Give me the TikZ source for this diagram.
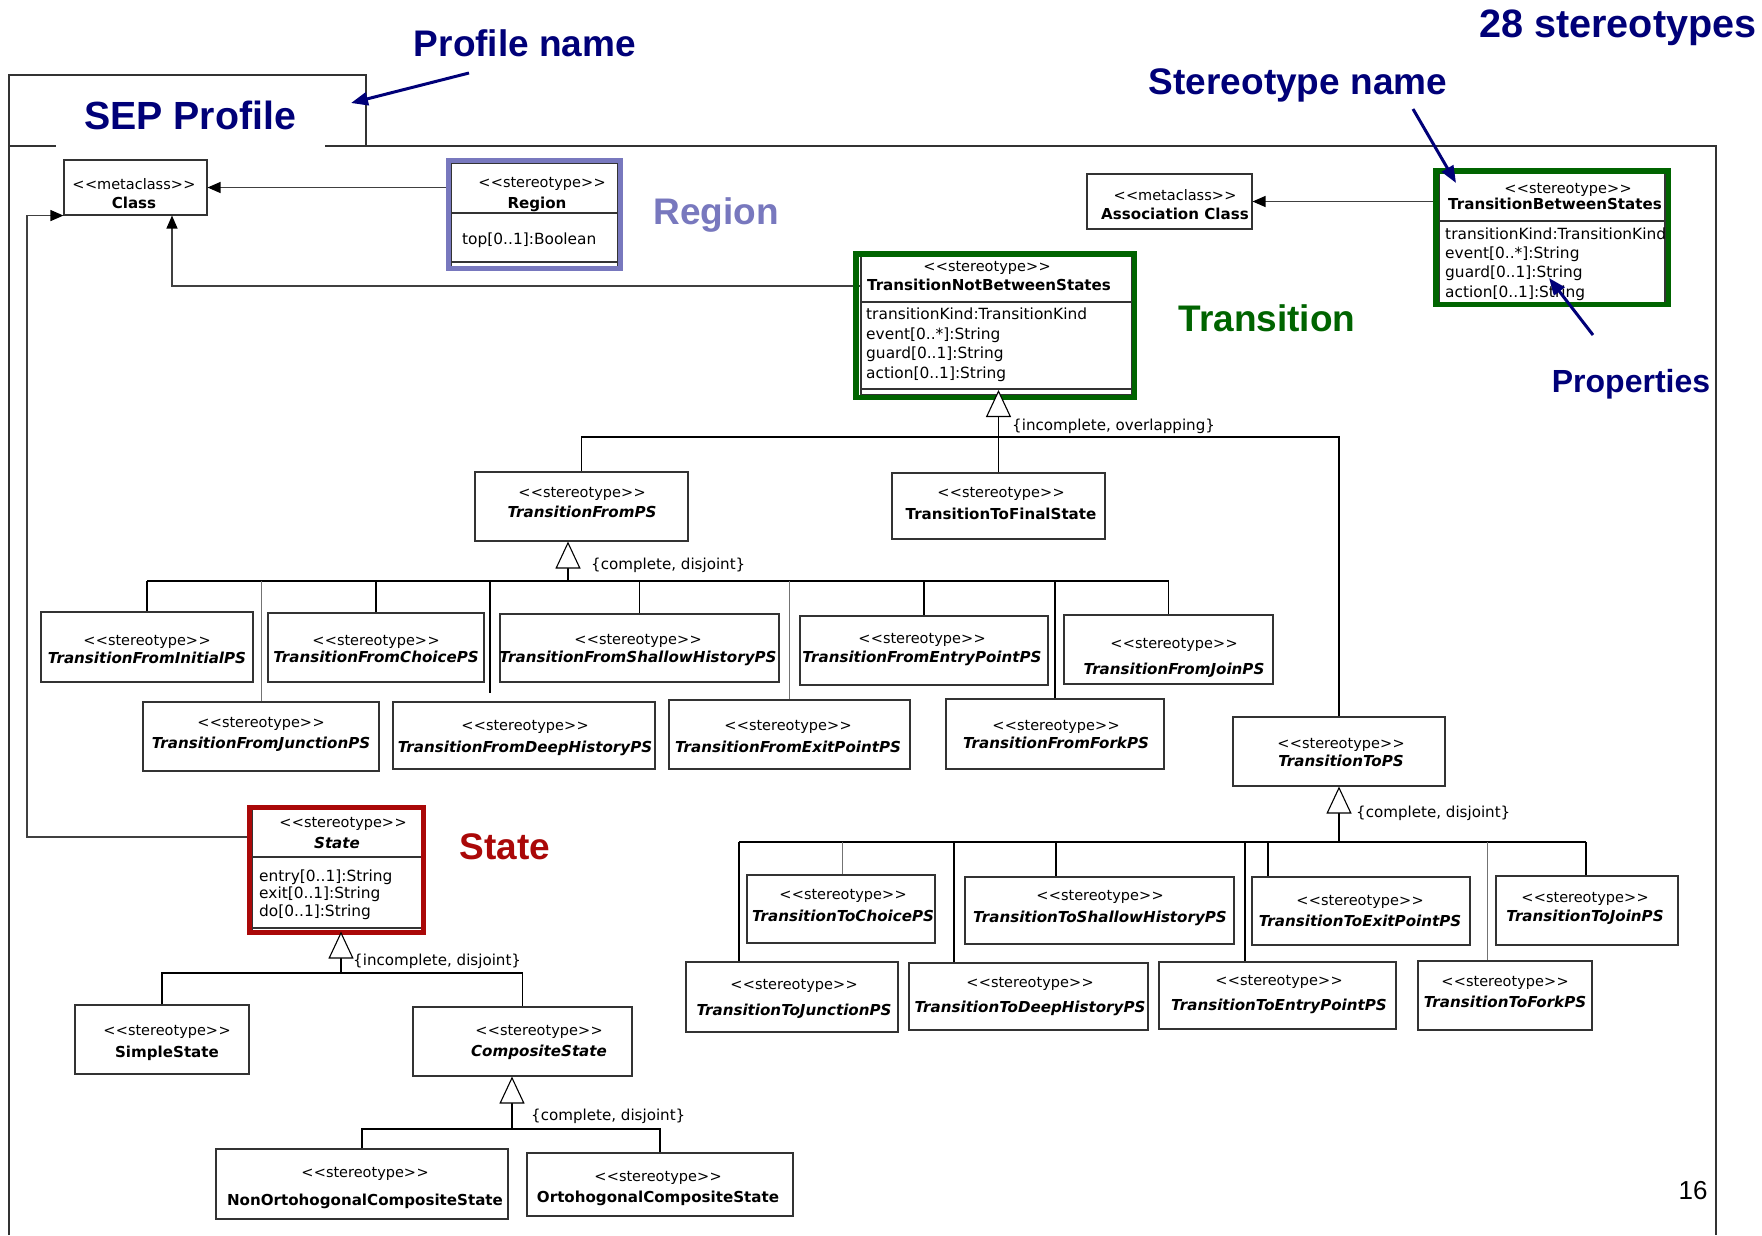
\documentclass[tikz,border=0pt]{standalone}
\usepackage{fontspec}
\setmainfont{DejaVu Sans}
\newfontfamily\annfont{Liberation Sans}
\usetikzlibrary{arrows.meta}

\definecolor{navyblue}{RGB}{0,0,120}
\definecolor{regioncol}{RGB}{120,120,190}
\definecolor{transcol}{RGB}{0,100,0}
\definecolor{statecol}{RGB}{170,8,8}
\definecolor{framecol}{RGB}{50,50,50}

% guillemet-free stereotype markers (kerns stop the << >> text mapping)
\newcommand\stereo{<\kern0.4pt<stereotype>\kern0.4pt>}
\newcommand\metac{<\kern0.4pt<metaclass>\kern0.4pt>}
\newcommand\bi[1]{{\fontsize{15.1}{19}\selectfont\bfseries\itshape #1}}
\newcommand\bo[1]{{\fontsize{15.1}{19}\selectfont\bfseries #1}}

\tikzset{
  sbox/.style={draw=black!80, line width=1.1pt, fill=white, inner sep=0pt},
  btext/.style={inner sep=0pt, align=center},
  stxt/.style={inner sep=0pt, anchor=base},
  attr/.style={inner sep=0pt, anchor=base west, font=\fontsize{15.4}{19}\selectfont},
  glabel/.style={inner sep=0pt, anchor=base west, font=\fontsize{15.1}{19}\selectfont},
  divider/.style={draw=black!80, line width=1.1pt},
  conn/.style={draw=black, line width=1.1pt},
  faint/.style={draw=black!55, line width=0.9pt},
  assoc/.style={draw=black!75, line width=1.2pt, -{Triangle[length=13pt, width=11pt, color=black]}},
  gentri/.style={draw=black, line width=1.1pt, -{Triangle[length=27pt, width=25pt, fill=white]}},
  hint/.style={draw=navyblue, line width=3pt, -{Triangle[length=17pt, width=13pt]}},
  ann/.style={inner sep=0pt, text=navyblue, font=\annfont\bfseries\fontsize{#1}{#1}\selectfont},
  pkgframe/.style={draw=framecol, line width=1.2pt},
}

% stereotype box: name, cx, cy, width, height, text x, text y, extra line gap, class name
\newcommand\ubox[9]{%
  \node[sbox, minimum width=#4, minimum height=#5] (#1) at (#2,#3) {};
  \node[btext] (#1-txt) at (#6,#7) {\stereo\\[#8pt]#9};}

\begin{document}
\begin{tikzpicture}[x=1pt, y=-1pt, font=\fontsize{14.5}{19}\selectfont]
\fill[white] (0,0) rectangle (1762,1235);
\useasboundingbox (0,0) rectangle (1762,1235);

% package frame with its name tab
\draw[pkgframe] (9,1235) -- (9,75) -- (366,75) -- (366,146);
\draw[pkgframe] (9,146) -- (56,146);
\draw[pkgframe] (325,146) -- (1716,146) -- (1716,1235);

% metaclasses
\node[sbox, minimum width=143, minimum height=55] (Class) at (135.5,187.5) {};
\node[btext] (Class-txt) at (134,193.5) {\metac\\\bo{Class}};
\node[sbox, minimum width=165, minimum height=55] (assocC) at (1169.5,201.5) {};
\node[btext] (assocC-txt) at (1175,204.5) {\metac\\\bo{Association Class}};

% Region stereotype
\node[sbox, minimum width=167, minimum height=104] (regionIn) at (534.5,215) {};
\draw[divider] (regionIn.west |- 0,213) -- (regionIn.east |- 0,213);
\draw[divider] (regionIn.west |- 0,262) -- (regionIn.east |- 0,262);
\node[stxt] (region-st) at (542,187) {\stereo};
\node[stxt] (region-nm) at (537,208) {\bo{Region}};
\node[attr] (region-a1) at (462,244) {top[0..1]:Boolean};

% TransitionBetweenStates
\node[sbox, minimum width=226, minimum height=130] (tbsIn) at (1552,238) {};
\draw[divider] (tbsIn.west |- 0,221) -- (tbsIn.east |- 0,221);
\node[stxt] (tbs-st) at (1568,193) {\stereo};
\node[stxt] (tbs-nm) at (1555,209) {\bo{TransitionBetweenStates}};
\node[attr] (tbs-a1) at (1445,239) {transitionKind:TransitionKind};
\node[attr] (tbs-a2) at (1445,258) {event[0..*]:String};
\node[attr] (tbs-a3) at (1445,277) {guard[0..1]:String};
\node[attr] (tbs-a4) at (1445,297) {action[0..1]:String};

% TransitionNotBetweenStates
\node[sbox, minimum width=271, minimum height=139] (tnbsIn) at (996.5,325.5) {};
\draw[divider] (tnbsIn.west |- 0,302) -- (tnbsIn.east |- 0,302);
\draw[divider] (tnbsIn.west |- 0,389) -- (tnbsIn.east |- 0,389);
\node[stxt] (tnbs-st) at (987,271) {\stereo};
\node[stxt] (tnbs-nm) at (989,290) {\bo{TransitionNotBetweenStates}};
\node[attr] (tnbs-a1) at (866,319) {transitionKind:TransitionKind};
\node[attr] (tnbs-a2) at (866,339) {event[0..*]:String};
\node[attr] (tnbs-a3) at (866,358) {guard[0..1]:String};
\node[attr] (tnbs-a4) at (866,378) {action[0..1]:String};

% State
\node[sbox, minimum width=170, minimum height=122] (stateIn) at (337,870) {};
\draw[divider] (stateIn.west |- 0,857) -- (stateIn.east |- 0,857);
\draw[divider] (stateIn.west |- 0,928) -- (stateIn.east |- 0,928);
\node[stxt] (state-st) at (343,827) {\stereo};
\node[stxt] (state-nm) at (337,848) {\bi{State}};
\node[attr] (state-a1) at (259,881) {entry[0..1]:String};
\node[attr] (state-a2) at (259,898) {exit[0..1]:String};
\node[attr] (state-a3) at (259,916) {do[0..1]:String};

% plain stereotypes
\ubox{fromPS}{581.5}{506.5}{213}{69}{582}{503}{1}{\bi{TransitionFromPS}}
\ubox{ttfs}{998.5}{506}{213}{66}{1001}{504}{3}{\bo{TransitionToFinalState}}
\ubox{fInit}{147}{647}{212}{70}{147}{650}{-1}{\bi{TransitionFromInitialPS}}
\ubox{fChoice}{376}{647.5}{216}{69}{376}{649.5}{-2}{\bi{TransitionFromChoicePS}}
\ubox{fShallow}{639.5}{648}{279}{68}{638}{650}{-1}{\bi{TransitionFromShallowHistoryPS}}
\ubox{fEntry}{924}{650.5}{248}{69}{922}{649.5}{0}{\bi{TransitionFromEntryPointPS}}
\ubox{fJoin}{1168.5}{649.5}{209}{69}{1174}{658}{7}{\bi{TransitionFromJoinPS}}
\ubox{fJunction}{261}{736.5}{236}{69}{261}{734.5}{2}{\bi{TransitionFromJunctionPS}}
\ubox{fDeep}{524}{735.5}{262}{67}{525}{738}{3}{\bi{TransitionFromDeepHistoryPS}}
\ubox{fExit}{789.5}{734.5}{241}{69}{788}{737}{3}{\bi{TransitionFromExitPointPS}}
\ubox{fFork}{1055}{734}{218}{70}{1056}{735}{-1}{\bi{TransitionFromForkPS}}
\ubox{toPS}{1339}{751.5}{212}{69}{1341}{753}{-1}{\bi{TransitionToPS}}
\ubox{tChoice}{841}{909}{188}{68}{843}{906}{3}{\bi{TransitionToChoicePS}}
\ubox{tShallow}{1099.5}{910.5}{269}{67}{1100}{908}{3}{\bi{TransitionToShallowHistoryPS}}
\ubox{tExit}{1361}{911}{218}{68}{1360}{911.5}{2}{\bi{TransitionToExitPointPS}}
\ubox{tJoin}{1587}{910.5}{182}{69}{1585}{908.5}{0}{\bi{TransitionToJoinPS}}
\ubox{tJunction}{792}{997}{212}{70}{794}{999}{7}{\bi{TransitionToJunctionPS}}
\ubox{tDeep}{1028.5}{996.5}{239}{67}{1030}{996.5}{6}{\bi{TransitionToDeepHistoryPS}}
\ubox{tEntry}{1277.5}{995.5}{237}{67}{1279}{994.5}{6}{\bi{TransitionToEntryPointPS}}
\ubox{tFork}{1505}{995.5}{174}{69}{1505}{992.5}{2}{\bi{TransitionToForkPS}}
\ubox{simple}{162}{1039.5}{174}{69}{167}{1043}{3}{\bo{SimpleState}}
\ubox{composite}{522.5}{1041.5}{219}{69}{539}{1042.5}{2}{\bi{CompositeState}}
\ubox{nonOrto}{362}{1184}{292}{70}{365}{1188}{9}{\bo{NonOrtohogonalCompositeState}}
\ubox{orto}{660}{1184.5}{266}{63}{658}{1188.5}{2}{\bo{OrtohogonalCompositeState}}

% extensions of the metaclasses
\draw[assoc] (regionIn.west |- Class.east) -- (Class.east);
\coordinate (tnBend) at (172,286);
\draw[assoc] (tnbsIn.west |- tnBend) -- (tnBend) -- (tnBend |- Class.south);
\coordinate (stBend) at (27,837);
\draw[assoc] (stateIn.west |- stBend) -- (stBend) -- (stBend |- Class.south) -- (Class.south west);
\draw[assoc] (tbsIn.west |- assocC.east) -- (assocC.east);

% highlight frames
\draw[regioncol, line width=5pt] (448.5,160.5) rectangle (620.5,268.5);
\draw[transcol, line width=5.5pt] (1435.75,170.75) rectangle (1668.25,304.25);
\draw[transcol, line width=5.5pt] (855.75,253.75) rectangle (1134.25,397.25);
\draw[statecol, line width=5pt] (249.5,807.5) rectangle (423.5,932.5);

% generalization of TransitionNotBetweenStates
\coordinate (tnbsApex) at (998.5,390);
\draw[gentri] (ttfs.north) -- (tnbsApex);
\coordinate (jT) at (999,437);
\draw[conn] (fromPS.north) -- (fromPS.north |- jT) -- (toPS.north |- jT) -- (toPS.north);
\node[glabel] (lblT) at (1012,430) {\{incomplete, overlapping\}};

% generalization of TransitionFromPS
\coordinate (jF) at (568,581);
\draw[gentri] (jF) -- (jF |- fromPS.south);
\draw[conn] (fInit.north |- jF) -- (fJoin.north |- jF);
\foreach \bx in {fInit,fChoice,fShallow,fEntry,fJoin,fFork}
  \draw[conn] (\bx.north |- jF) -- (\bx.north);
\foreach \bx in {fJunction,fExit}
  \draw[faint] (\bx.north |- jF) -- (\bx.north);
\coordinate (fDeepEnd) at (490,693);
\draw[conn] (fDeepEnd |- jF) -- (fDeepEnd);
\node[glabel] (lblF) at (591,569) {\{complete, disjoint\}};

% generalization of TransitionToPS
\coordinate (jTo) at (1339,842);
\draw[gentri] (jTo) -- (toPS.south);
\coordinate (jToL) at (739,842);
\coordinate (jToR) at (1586,842);
\draw[conn] (jToL) -- (jToR);
\foreach \xx/\bx in {739/tJunction,954/tDeep,1056/tShallow,1245/tEntry,1268/tExit,1586/tJoin}
  \draw[conn] (\xx,842) -- (\xx,842 |- \bx.north);
\foreach \xx/\bx in {842/tChoice,1487/tFork}
  \draw[faint] (\xx,842) -- (\xx,842 |- \bx.north);
\node[glabel] (lblTo) at (1356,817) {\{complete, disjoint\}};

% generalization of State
\coordinate (jS) at (341,973);
\draw[gentri] (jS) -- (jS |- stateIn.south);
\draw[conn] (simple.north) -- (simple.north |- jS) -- (composite.north |- jS) -- (composite.north);
\node[glabel] (lblS) at (353,965) {\{incomplete, disjoint\}};

% generalization of CompositeState
\coordinate (jC) at (512,1129);
\draw[gentri] (jC) -- (jC |- composite.south);
\draw[conn] (nonOrto.north) -- (nonOrto.north |- jC) -- (orto.north |- jC) -- (orto.north);
\node[glabel] (lblC) at (531,1120) {\{complete, disjoint\}};

% titles and annotations
\node[ann=39.3] (sepName) at (190,115) {SEP Profile};
\node[ann=37] (profName) at (525,43) {Profile name};
\node[ann=37] (stName) at (1298,85) {Stereotype name};
\node[ann=39.6] (count) at (1618,28) {28 stereotypes};
\node[ann=32] (propName) at (1631,384) {Properties};
\node[ann=37, text=regioncol] (regionLbl) at (716,215) {Region};
\node[ann=37, text=transcol] (transLbl) at (1267,318) {Transition};
\node[ann=37, text=statecol] (stateLbl) at (505,847) {State};
\node[inner sep=0pt, font=\annfont\fontsize{26}{26}\selectfont] (pageNo) at (1693,1191) {16};

\coordinate (pnFrom) at (469,73);
\coordinate (pnTo) at (351,103);
\draw[hint] (pnFrom) -- (pnTo);
\coordinate (snFrom) at (1413,109);
\coordinate (snTo) at (1456,183);
\draw[hint] (snFrom) -- (snTo);
\coordinate (ppFrom) at (1593,335);
\coordinate (ppTo) at (1549,278);
\draw[hint] (ppFrom) -- (ppTo);
\end{tikzpicture}
\end{document}
